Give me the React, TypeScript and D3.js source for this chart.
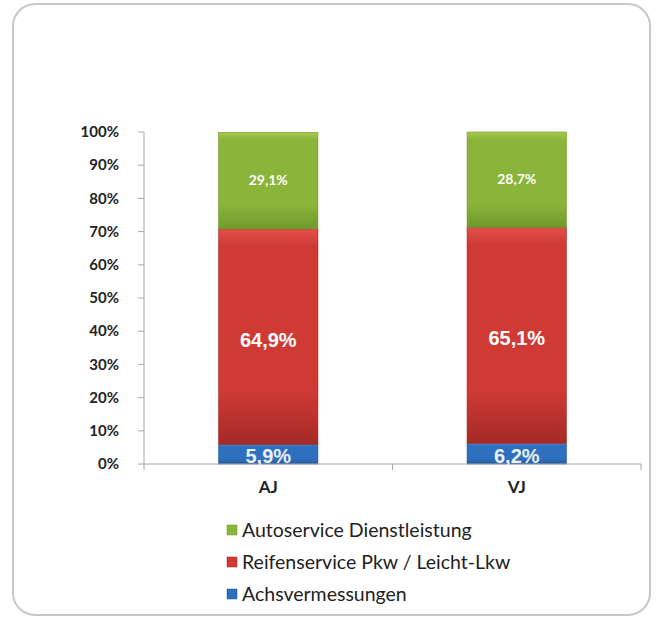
import React from "react";
import * as d3 from "d3";

const categories = ["AJ", "VJ"];
const seriesNames = ["Achsvermessungen", "Reifenservice Pkw / Leicht-Lkw", "Autoservice Dienstleistung"];
const achsvermessungen = [5.9, 6.2];
const reifenservice = [64.9, 65.1];
const autoservice = [29.1, 28.7];
const yTicks = [0, 10, 20, 30, 40, 50, 60, 70, 80, 90, 100];

const colors = {
  Achsvermessungen: ["#5a9be0", "#2f6fbf", "#235a9e"],
  "Reifenservice Pkw / Leicht-Lkw": ["#e2504a", "#cf3a35", "#a52a26"],
  "Autoservice Dienstleistung": ["#a6cc4e", "#8ab43a", "#6f9a2c"],
};

export default function App() {
  const W = 657, H = 618;
  const x0 = 144, x1 = 641, yTop = 132, yBot = 464;
  const x = d3.scaleBand().domain(categories).range([x0, x1]).paddingInner(0.6).paddingOuter(0.3);
  const xb = d3.scaleBand().domain(categories).range([x0, x1]);
  const y = d3.scaleLinear().domain([0, 100]).range([yBot, yTop]);
  const rows = categories.map((c, i) => ({
    cat: c,
    Achsvermessungen: achsvermessungen[i],
    "Reifenservice Pkw / Leicht-Lkw": reifenservice[i],
    "Autoservice Dienstleistung": autoservice[i],
  }));
  const stack = d3.stack<any>().keys(seriesNames)(rows);
  const fmt = (v: number) => v.toFixed(1).replace(".", ",") + "%";
  const legendOrder = [...seriesNames].reverse();
  const bw = x.bandwidth();

  return (
    <svg width={W} height={H} style={{ position: "absolute", left: 0, top: 0 }}>
      <defs>
        {seriesNames.map((s, i) => (
          <linearGradient key={s} id={"g" + i} x1="0" y1="0" x2="0" y2="1">
            <stop offset="0%" stopColor={colors[s][0]} />
            <stop offset="8%" stopColor={colors[s][1]} />
            <stop offset="75%" stopColor={colors[s][1]} />
            <stop offset="100%" stopColor={colors[s][2]} />
          </linearGradient>
        ))}
      </defs>
      <rect x={0} y={0} width={W} height={H} fill="#fff" />
      <rect x={13} y={4} width={637} height={611} rx={22} ry={22} fill="#fff" stroke="#c8c8c8" strokeWidth={2} />
      {/* y axis */}
      <line x1={x0} x2={x0} y1={yTop} y2={yBot} stroke="#a8a8a8" strokeWidth={1} />
      {yTicks.map((t) => (
        <g key={t}>
          <line x1={x0 - 6} x2={x0} y1={y(t)} y2={y(t)} stroke="#a8a8a8" />
          <text x={x0 - 25} y={y(t)} dy="0.35em" textAnchor="end" fontFamily="Lato, 'Open Sans', sans-serif" fontWeight={700} fontSize={15} fill="#222">
            {t}%
          </text>
        </g>
      ))}
      {/* bars */}
      {stack.map((layer, li) =>
        layer.map((d, ci) => {
          const top = y(d[1]);
          const bot = y(d[0]);
          return (
            <rect key={li + "-" + ci} x={x(categories[ci])} y={top} width={bw} height={bot - top} fill={`url(#g${li})`} stroke={colors[seriesNames[li]][2]} strokeWidth={0.6} />
          );
        })
      )}
      {/* x axis */}
      <line x1={x0} x2={x1} y1={yBot} y2={yBot} stroke="#a8a8a8" />
      {[x0, xb(categories[1])!, x1].map((tx, i) => (
        <line key={i} x1={tx} x2={tx} y1={yBot} y2={yBot + 6} stroke="#a8a8a8" />
      ))}
      {/* labels */}
      {stack.map((layer, li) =>
        layer.map((d, ci) => {
          const cx = x(categories[ci])! + bw / 2;
          const v = d.data[seriesNames[li]] as number;
          if (li === 0) {
            return (
              <text key={"l" + li + ci} x={cx} y={yBot - 1} textAnchor="middle" fontFamily="'Liberation Sans', Arial, sans-serif" fontWeight={700} fontSize={20} fill="#e8f0fa">
                {fmt(v)}
              </text>
            );
          }
          const mid = y((d[0] + d[1]) / 2);
          return (
            <text key={"l" + li + ci} x={cx} y={li === 1 ? mid + 3 : mid - 1} dy="0.35em" textAnchor="middle"
              fontFamily={li === 1 ? "'Liberation Sans', Arial, sans-serif" : "Lato, 'Open Sans', sans-serif"}
              fontWeight={700} fontSize={li === 1 ? 20 : 14} fill="#fff">
              {fmt(v)}
            </text>
          );
        })
      )}
      {categories.map((c) => (
        <text key={c} x={x(c)! + bw / 2} y={493} textAnchor="middle" fontFamily="Lato, 'Open Sans', sans-serif" fontWeight={700} fontSize={17} fill="#222">
          {c}
        </text>
      ))}
      {/* legend */}
      {legendOrder.map((s, i) => {
        const ly = 530 + i * 32;
        return (
          <g key={s}>
            <rect x={227} y={ly - 5} width={10} height={10} fill={colors[s][1]} stroke={colors[s][2]} strokeWidth={0.5} />
            <text x={242} y={ly} dy="0.35em" fontFamily="Lato, 'Open Sans', sans-serif" fontWeight={400} fontSize={19.5} fill="#222">
              {s}
            </text>
          </g>
        );
      })}
    </svg>
  );
}
